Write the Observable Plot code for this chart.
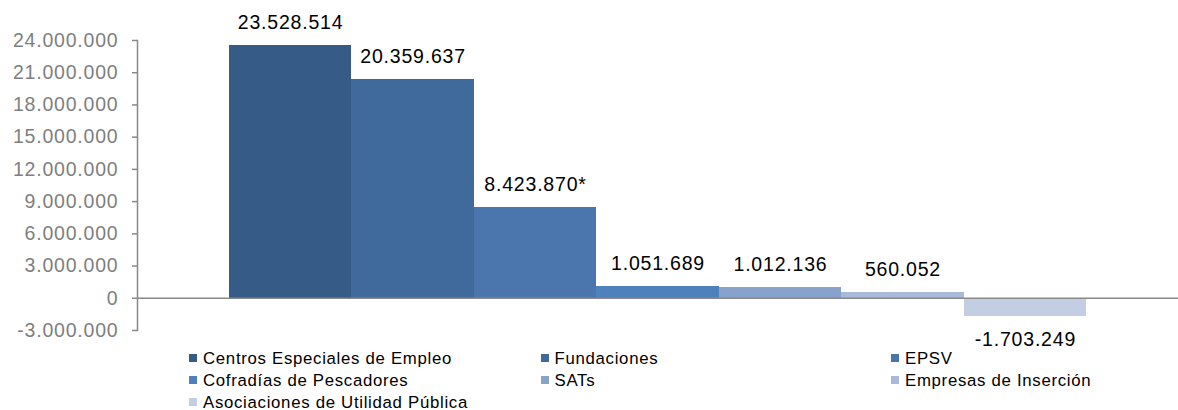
<!DOCTYPE html>
<html>
<head>
<meta charset="utf-8">
<script src="https://cdn.jsdelivr.net/npm/d3@7"></script>
<script src="https://cdn.jsdelivr.net/npm/@observablehq/plot@0.6"></script>
<style>
  html, body { margin: 0; padding: 0; background: #fff; }
  #wrap { position: relative; width: 1178px; height: 410px; font-family: "Liberation Sans", Arial, sans-serif; }
  #legend { position: absolute; left: 189px; top: 347px; display: grid; grid-template-columns: 351.5px 350.5px auto; font-size: 16.8px; letter-spacing: 0.7px; color: #000; }
  #legend .item { height: 22px; line-height: 21px; white-space: nowrap; display: flex; align-items: center; }
  #legend .sw { display: inline-block; width: 8px; height: 8px; margin-right: 6px; flex: none; }
</style>
</head>
<body>
<div id="wrap"><div id="chart"></div><div id="legend"></div></div>
<script>
const categories = ["Centros Especiales de Empleo", "Fundaciones", "EPSV", "Cofradías de Pescadores", "SATs", "Empresas de Inserción", "Asociaciones de Utilidad Pública"];
const values = [23528514, 20359637, 8423870, 1051689, 1012136, 560052, -1703249];
const notes = ["", "", "*", "", "", "", ""];
const colors = ["#375B87", "#416A9C", "#4A76AD", "#4F81BD", "#87A2CB", "#A9B9D8", "#C3CEE3"];
const yTicks = [-3000000, 0, 3000000, 6000000, 9000000, 12000000, 15000000, 18000000, 21000000, 24000000];

const fmt = d3.formatLocale({decimal: ",", thousands: ".", grouping: [3], currency: ["", ""], minus: "-"}).format(",d");
const data = categories.map((c, i) => ({category: c, value: values[i], label: fmt(values[i]) + notes[i]}));

const chart = Plot.plot({
  width: 1178,
  height: 356,
  marginLeft: 137,
  marginRight: 0,
  marginTop: 40,
  marginBottom: 26,
  style: {fontFamily: "'Liberation Sans', Arial, sans-serif", overflow: "visible", letterSpacing: "0.8px", background: "#fff"},
  x: {domain: categories, paddingInner: 0, paddingOuter: 0.75, round: false, axis: null},
  y: {domain: [yTicks[0], yTicks[yTicks.length - 1]], axis: null, label: null},
  color: {domain: categories, range: colors},
  marks: [
    Plot.barY(data, {x: "category", y: "value", fill: "category", shapeRendering: "crispEdges"}),
    Plot.ruleY([0], {stroke: "#898989", strokeWidth: 1.5}),
    Plot.frame({anchor: "left", stroke: "#898989", strokeWidth: 1.5}),
    Plot.axisY({ticks: yTicks, tickFormat: fmt, tickSize: 5, tickPadding: 14, fontSize: 19.5, fill: "#7f7f7f", stroke: "#898989", strokeWidth: 1.5, label: null}),
    Plot.text(data.filter(d => d.value >= 0), {x: "category", y: "value", text: "label", dy: -23, fontSize: 19.5, fill: "#000", lineAnchor: "middle"}),
    Plot.text(data.filter(d => d.value < 0), {x: "category", y: "value", text: "label", dy: 23.5, fontSize: 19.5, fill: "#000", lineAnchor: "middle"})
  ]
});
document.getElementById("chart").appendChild(chart);

const legend = document.getElementById("legend");
categories.forEach((c, i) => {
  const item = document.createElement("div");
  item.className = "item";
  const sw = document.createElement("span");
  sw.className = "sw";
  sw.style.background = colors[i];
  item.appendChild(sw);
  item.appendChild(document.createTextNode(c));
  legend.appendChild(item);
});
</script>
</body>
</html>
